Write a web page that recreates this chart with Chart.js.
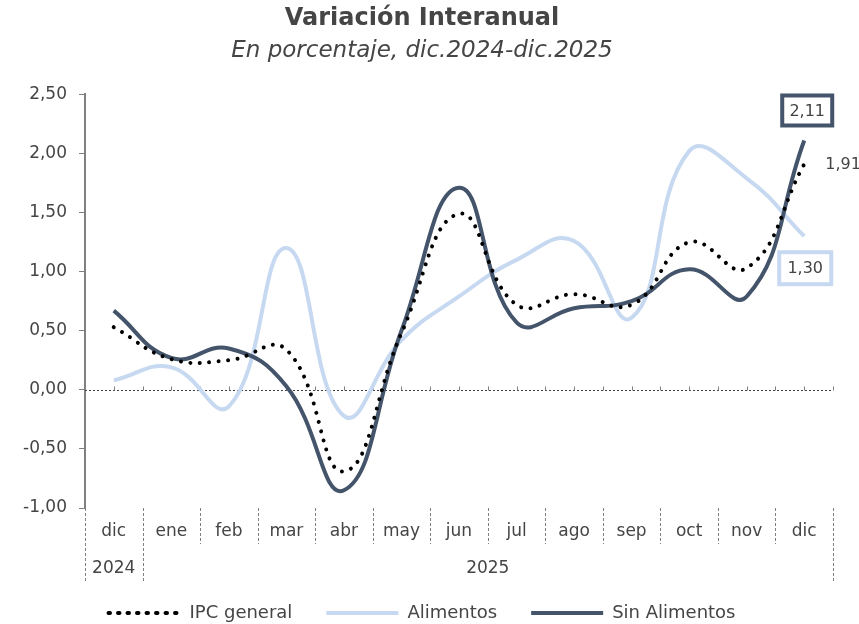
<!DOCTYPE html>
<html>
<head>
<meta charset="utf-8">
<script src="https://cdn.jsdelivr.net/npm/chart.js@4.4.1/dist/chart.umd.min.js"></script>
<style>
  html, body { margin: 0; padding: 0; background: #fff; }
</style>
</head>
<body>
<canvas id="lineChart-1" width="859" height="624"></canvas>
<script>
var months = ['dic', 'ene', 'feb', 'mar', 'abr', 'may', 'jun', 'jul', 'ago', 'sep', 'oct', 'nov', 'dic'];
var yearLabels = ['2024', '2025'];
var yearSpans = [1, 12];
var yTicks = [-1, -0.5, 0, 0.5, 1, 1.5, 2, 2.5];

var ipcGeneral   = [0.53, 0.26, 0.25, 0.34, -0.69, 0.48, 1.49, 0.72, 0.81, 0.72, 1.25, 1.03, 1.91];
var alimentos    = [0.08, 0.19, -0.14, 1.20, -0.22, 0.42, 0.79, 1.10, 1.26, 0.61, 2.02, 1.79, 1.30];
var sinAlimentos = [0.67, 0.27, 0.35, 0.03, -0.85, 0.50, 1.71, 0.57, 0.69, 0.75, 1.02, 0.79, 2.11];

var FONT = 'DejaVu Sans';
var TXT = '#454545';
var DARK = '#44546a';
var LIGHT = '#c6d9f1';

function fmt(v) { return v.toFixed(2).replace('.', ','); }

var decor = {
    id: 'decor',
    beforeDatasetsDraw: function (chart) {
        var ctx = chart.ctx, x = chart.scales.x, y = chart.scales.y;
        var y0 = Math.round(y.getPixelForValue(0)) + 0.5;
        var half = (x.getPixelForValue(1) - x.getPixelForValue(0)) / 2;
        ctx.save();
        ctx.strokeStyle = '#404040';
        ctx.lineWidth = 1;
        ctx.setLineDash([2, 2]);
        ctx.beginPath();
        ctx.moveTo(x.left, y0);
        ctx.lineTo(x.right, y0);
        ctx.stroke();
        ctx.setLineDash([]);
        ctx.strokeStyle = '#808080';
        ctx.beginPath();
        for (var i = 0; i < months.length; i++) {
            var cx = x.getPixelForValue(i);
            [cx, cx + half].forEach(function (px) {
                px = Math.round(px) + 0.5;
                ctx.moveTo(px, y0);
                ctx.lineTo(px, y0 - 4);
            });
        }
        ctx.stroke();
        ctx.restore();
    },
    afterDraw: function (chart) {
        var ctx = chart.ctx, x = chart.scales.x, y = chart.scales.y;
        var w = (x.right - x.left) / months.length;
        var bottom = chart.chartArea.bottom;
        ctx.save();
        // category separators
        var longAt = [0];
        var acc = 0;
        yearSpans.forEach(function (s) { acc += s; longAt.push(acc); });
        ctx.strokeStyle = '#808080';
        ctx.lineWidth = 1;
        ctx.setLineDash([3, 2]);
        for (var k = 0; k <= months.length; k++) {
            var px = Math.round(x.left + k * w) + 0.5;
            ctx.beginPath();
            ctx.moveTo(px, bottom);
            ctx.lineTo(px, longAt.indexOf(k) >= 0 ? bottom + 74 : bottom + 36);
            ctx.stroke();
        }
        ctx.setLineDash([]);
        // year labels
        ctx.fillStyle = TXT;
        ctx.font = '17px ' + FONT;
        ctx.textAlign = 'center';
        ctx.textBaseline = 'middle';
        var start = 0;
        yearLabels.forEach(function (lab, i) {
            var a = x.getPixelForValue(start), b = x.getPixelForValue(start + yearSpans[i] - 1);
            ctx.fillText(lab, (a + b) / 2, bottom + 61);
            start += yearSpans[i];
        });
        // end labels
        var last = months.length - 1;
        var lx = x.getPixelForValue(last);
        ctx.font = '16px ' + FONT;
        function box(val, cx, cy, bw, bh, color) {
            ctx.fillStyle = '#fff';
            ctx.strokeStyle = color;
            ctx.lineWidth = 4;
            ctx.fillRect(cx - bw / 2, cy - bh / 2, bw, bh);
            ctx.strokeRect(cx - bw / 2, cy - bh / 2, bw, bh);
            ctx.fillStyle = TXT;
            ctx.fillText(fmt(val), cx, cy + 1);
        }
        box(sinAlimentos[last], lx + 3, y.getPixelForValue(sinAlimentos[last]) - 30, 50, 30, DARK);
        box(alimentos[last], lx + 1, y.getPixelForValue(alimentos[last]) + 32, 52, 32, LIGHT);
        ctx.textAlign = 'left';
        ctx.fillStyle = TXT;
        ctx.fillText(fmt(ipcGeneral[last]), lx + 21, y.getPixelForValue(ipcGeneral[last]) + 1);
        ctx.restore();
    }
};

var ctx = document.getElementById('lineChart-1').getContext('2d');
var myChart = new Chart(ctx, {
    type: 'line',
    data: {
        labels: months,
        datasets: [{
            label: 'IPC general',
            data: ipcGeneral,
            borderColor: '#000',
            backgroundColor: '#000',
            borderWidth: 4,
            borderDash: [0.001, 9.5],
            borderCapStyle: 'round',
            pointRadius: 0,
            tension: 0.45,
            order: 0
        }, {
            label: 'Alimentos',
            data: alimentos,
            borderColor: LIGHT,
            backgroundColor: LIGHT,
            borderWidth: 4,
            pointRadius: 0,
            tension: 0.45,
            order: 2
        }, {
            label: 'Sin Alimentos',
            data: sinAlimentos,
            borderColor: DARK,
            backgroundColor: DARK,
            borderWidth: 4,
            pointRadius: 0,
            tension: 0.45,
            order: 1
        }]
    },
    options: {
        responsive: false,
        animation: false,
        devicePixelRatio: 1,
        layout: { padding: { left: 11, right: 26, top: 2, bottom: -8 } },
        plugins: {
            title: {
                display: true,
                text: 'Variación Interanual',
                color: TXT,
                font: { family: FONT, size: 24, weight: 'bold' },
                padding: { top: 2, bottom: 0 }
            },
            subtitle: {
                display: true,
                text: 'En porcentaje, dic.2024-dic.2025',
                color: TXT,
                font: { family: FONT, size: 23, style: 'italic' },
                padding: { top: 4, bottom: 30 }
            },
            legend: {
                position: 'bottom',
                labels: {
                    color: TXT,
                    font: { family: FONT, size: 18 },
                    boxWidth: 72,
                    boxHeight: 0,
                    padding: 34,
                    sort: function (a, b) { return a.datasetIndex - b.datasetIndex; }
                }
            },
            tooltip: { enabled: false }
        },
        scales: {
            x: {
                offset: true,
                grid: { display: false, drawTicks: false },
                border: { display: false },
                ticks: { color: TXT, font: { family: FONT, size: 17 }, padding: 13, maxRotation: 0, autoSkip: false },
                afterFit: function (scale) { scale.height = 62; }
            },
            y: {
                min: -1,
                max: 2.5,
                afterBuildTicks: function (scale) { scale.ticks = yTicks.map(function (v) { return { value: v }; }); },
                grid: { drawOnChartArea: false, color: '#808080', tickLength: 6 },
                border: { color: '#808080', width: 2 },
                ticks: { color: TXT, font: { family: FONT, size: 17 }, padding: 12, callback: function (v) { return fmt(v); } }
            }
        }
    },
    plugins: [decor]
});
</script>
</body>
</html>
